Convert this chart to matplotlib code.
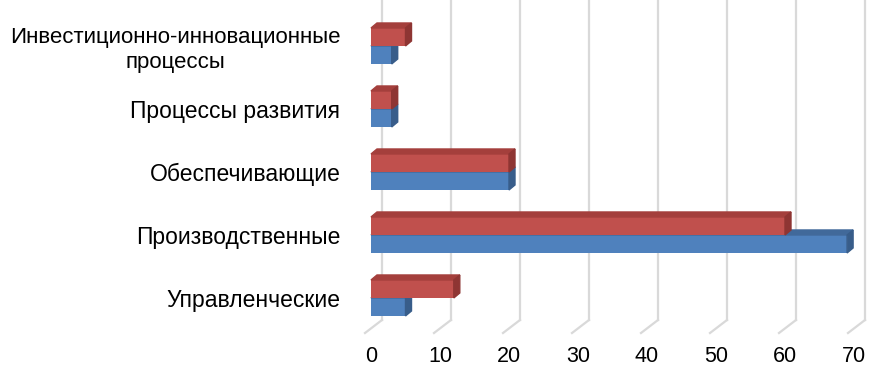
import matplotlib.pyplot as plt
from matplotlib.patches import Polygon

plt.rcParams['font.family'] = ['Liberation Sans', 'DejaVu Sans']

categories = ["Управленческие", "Производственные", "Обеспечивающие",
              "Процессы развития", "Инвестиционно-инновационные\nпроцессы"]
red_values = [12, 60, 20, 3, 5]
blue_values = [5, 69, 20, 3, 3]
x_ticks = [0, 10, 20, 30, 40, 50, 60, 70]

red_front, red_top, red_side = "#C0504D", "#A43F3C", "#8E3533"
blue_front, blue_top, blue_side = "#4F81BD", "#41699A", "#385D8A"

fig = plt.figure(figsize=(8.7, 3.68), dpi=100)
# axes in pixels: left 371, right 854, bottom 333 (from top), top 0
ax = fig.add_axes([371 / 870, 35 / 368, 483 / 870, 333 / 368])
ax.set_xlim(0, 70)
ax.set_ylim(-0.556, 4.73)

px_x = 70 / 483  # data units per pixel
px_y = (4.73 + 0.556) / 333

# back-wall gridlines with floor part
for t in x_ticks:
    bx = t + 11 * px_x
    ax.plot([bx, bx], [4.73, -0.556 + 13 * px_y], color="#D9D9D9", lw=1.6,
            clip_on=False, zorder=1)
    ax.plot([bx, bx - 17 * px_x], [-0.556 + 13 * px_y, -0.556], color="#D9D9D9",
            lw=1.6, clip_on=False, zorder=1)

h = 18 / 63
ddx = 6 * px_x
ddy = 5 * px_y


def bar3d(y0, val, front, top, side):
    ax.barh(y0, val, height=h, align="edge", color=front, zorder=3)
    ax.add_patch(Polygon([(0, y0 + h), (val, y0 + h), (val + ddx, y0 + h + ddy),
                          (ddx, y0 + h + ddy)], closed=True, color=top, zorder=3,
                         clip_on=False))
    ax.add_patch(Polygon([(val, y0), (val + ddx, y0 + ddy), (val + ddx, y0 + h + ddy),
                          (val, y0 + h)], closed=True, color=side, zorder=3,
                         clip_on=False))


for i in range(len(categories)):
    bar3d(i - h, blue_values[i], blue_front, blue_top, blue_side)
    bar3d(i, red_values[i], red_front, red_top, red_side)

ax.set_yticks(range(len(categories)))
ylabels = ax.set_yticklabels(categories, fontsize=16.5, multialignment="center")
ylabels[-1].set_fontsize(16)  # long two-line label must stay inside the figure
ax.set_xticks(x_ticks)
ax.set_xticklabels([str(t) for t in x_ticks], fontsize=15.5)
ax.tick_params(axis="y", length=0, pad=22)
ax.tick_params(axis="x", length=0, pad=9)
for s in ax.spines.values():
    s.set_visible(False)

fig.savefig("out.png", dpi=100)
